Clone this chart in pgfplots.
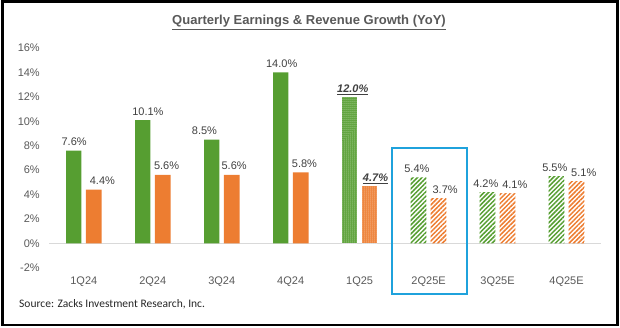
\documentclass[border=0pt]{standalone}
\usepackage{pgfplots}
\pgfplotsset{compat=1.18}
\usetikzlibrary{patterns.meta}
\usepackage{fontspec}
\setmainfont{Liberation Sans}
\newfontfamily\carlito{Carlito}
\definecolor{egreen}{HTML}{569E31}
\definecolor{eorange}{HTML}{ED7D31}
\definecolor{tgray}{HTML}{595959}
\definecolor{lblgray}{HTML}{404040}
\definecolor{zline}{HTML}{D9D9D9}
\definecolor{boxblue}{HTML}{1FA2DC}
\begin{document}
\begin{tikzpicture}[x=1pt,y=1pt]
\useasboundingbox (0,0) rectangle (620,328);
\begin{axis}[
  at={(49.3pt,60.3pt)}, anchor=south west,
  width=551.7pt, height=219.7pt, scale only axis,
  xmin=-0.5, xmax=7.5, ymin=-2, ymax=16,
  axis line style={draw=none},
  major tick length=0pt,
  ytick={-2,0,...,16},
  yticklabel={\pgfmathprintnumber{\tick}\%},
  xtick={0,...,7},
  xticklabels={1Q24,2Q24,3Q24,4Q24,1Q25,2Q25E,3Q25E,4Q25E},
  ticklabel style={font=\fontsize{11}{13}\selectfont, color=tgray},
  yticklabel style={xshift=-6pt},
  xticklabel style={yshift=-6pt},
  extra y ticks={0}, extra y tick labels={},
  extra y tick style={grid=major, major grid style={draw=zline, line width=1pt}},
  clip=false,
  /pgf/number format/assume math mode=true,
]
% actual quarters
\addplot[ybar, bar width=0.222, bar shift=0pt, fill=egreen, draw=none]
  coordinates {(-0.145,7.6) (0.855,10.1) (1.855,8.5) (2.855,14.0)};
\addplot[ybar, bar width=0.228, bar shift=0pt, fill=eorange, draw=none]
  coordinates {(0.145,4.4) (1.145,5.6) (2.145,5.6) (3.145,5.8)};
% 1Q25 (dotted)
\addplot[ybar, bar width=0.228, bar shift=0pt, fill=egreen, draw=none,
  postaction={pattern={Dots[distance=2pt,radius=0.5pt]}, pattern color=white}]
  coordinates {(3.855,12.0)};
\addplot[ybar, bar width=0.228, bar shift=0pt, fill=eorange, draw=none,
  postaction={pattern={Dots[distance=2pt,radius=0.5pt]}, pattern color=white}]
  coordinates {(4.145,4.7)};
% estimates (hatched)
\addplot[ybar, bar width=0.228, bar shift=0pt, draw=none,
  pattern={Lines[angle=45,distance=3.2pt,line width=1.5pt]}, pattern color=egreen]
  coordinates {(4.855,5.4) (5.855,4.2) (6.855,5.5)};
\addplot[ybar, bar width=0.228, bar shift=0pt, draw=none,
  pattern={Lines[angle=45,distance=3.2pt,line width=1.5pt]}, pattern color=eorange]
  coordinates {(5.145,3.7) (6.145,4.1) (7.145,5.1)};
% labels
\addplot[draw=none, point meta=y,
  nodes near coords={\pgfmathprintnumber[fixed,fixed zerofill,precision=1]{\pgfplotspointmeta}\%},
  nodes near coords style={anchor=base, inner sep=0pt, yshift=5pt, font=\fontsize{11}{13}\selectfont, color=lblgray}]
  coordinates {(-0.14,7.6) (0.27,4.4) (0.93,10.1) (1.2,5.6) (1.75,8.5) (2.18,5.6) (2.87,14.0) (3.2,5.8)
               (4.83,5.4) (5.24,3.7) (5.83,4.2) (6.25,4.1) (6.83,5.5) (7.25,5.1)};
\addplot[draw=none, point meta=y,
  nodes near coords={\underline{\textbf{\textit{\pgfmathprintnumber[fixed,fixed zerofill,precision=1]{\pgfplotspointmeta}\%}}}},
  nodes near coords style={anchor=base, inner sep=0pt, yshift=4.5pt, font=\fontsize{11}{13}\selectfont, color=lblgray}]
  coordinates {(3.9,12.0) (4.23,4.7)};
\end{axis}
\node[anchor=base, font=\bfseries\fontsize{13}{15}\selectfont, color=tgray] at (309,303) {\underline{Quarterly Earnings \& Revenue Growth (YoY)}};
\node[anchor=base west, inner sep=0pt, font=\carlito\fontsize{11.5}{13}\selectfont, color=black!85] at (19,20.5) {Source: Zacks Investment Research, Inc.};
\draw[boxblue, line width=2pt] (392.3,34) rectangle (467.3,179.7);
\draw[black, line width=2.5pt] (2.5,3) rectangle (617.3,326.5);
\end{tikzpicture}
\end{document}
